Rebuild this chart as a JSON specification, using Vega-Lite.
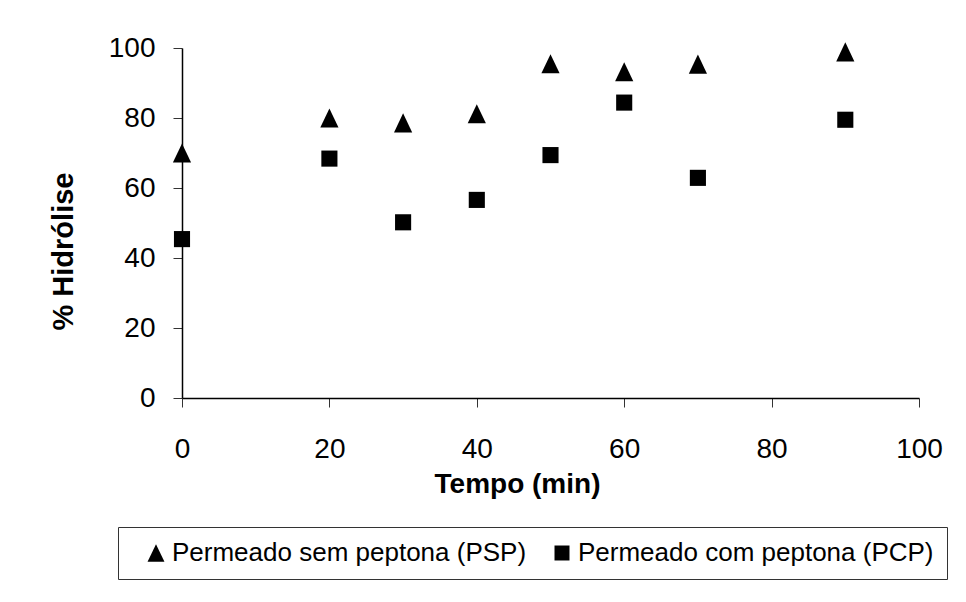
{
  "$schema": "https://vega.github.io/schema/vega-lite/v6.json",
  "autosize": "none",
  "width": 737,
  "height": 350,
  "padding": {"left": 182, "top": 48, "right": 47, "bottom": 204},
  "background": "white",
  "config": {
    "font": "Liberation Sans",
    "view": {"stroke": null},
    "axis": {"grid": false, "domainColor": "black", "tickColor": "#333333", "labelColor": "black", "titleColor": "black", "labelFont": "Liberation Sans", "titleFont": "Liberation Sans"},
    "legend": {"labelFont": "Liberation Sans"}
  },
  "data": {
    "values": [
      {"t": 0, "h": 70, "s": "Permeado sem peptona (PSP)"},
      {"t": 20, "h": 80, "s": "Permeado sem peptona (PSP)"},
      {"t": 30, "h": 78.6, "s": "Permeado sem peptona (PSP)"},
      {"t": 40, "h": 81.2, "s": "Permeado sem peptona (PSP)"},
      {"t": 50, "h": 95.5, "s": "Permeado sem peptona (PSP)"},
      {"t": 60, "h": 93.2, "s": "Permeado sem peptona (PSP)"},
      {"t": 70, "h": 95.4, "s": "Permeado sem peptona (PSP)"},
      {"t": 90, "h": 98.9, "s": "Permeado sem peptona (PSP)"},
      {"t": 0, "h": 45.4, "s": "Permeado com peptona (PCP)"},
      {"t": 20, "h": 68.4, "s": "Permeado com peptona (PCP)"},
      {"t": 30, "h": 50.2, "s": "Permeado com peptona (PCP)"},
      {"t": 40, "h": 56.6, "s": "Permeado com peptona (PCP)"},
      {"t": 50, "h": 69.4, "s": "Permeado com peptona (PCP)"},
      {"t": 60, "h": 84.4, "s": "Permeado com peptona (PCP)"},
      {"t": 70, "h": 62.9, "s": "Permeado com peptona (PCP)"},
      {"t": 90, "h": 79.5, "s": "Permeado com peptona (PCP)"}
    ]
  },
  "mark": {"type": "point", "filled": true, "opacity": 1, "size": 300},
  "encoding": {
    "x": {
      "field": "t", "type": "quantitative",
      "scale": {"domain": [0, 100], "nice": false, "zero": true},
      "axis": {"values": [0, 20, 40, 60, 80, 100], "title": "Tempo (min)", "titleFontSize": 28, "titleFontWeight": "bold", "titleX": 335, "titleY": 94, "titleAlign": "center", "titleBaseline": "alphabetic", "labelFontSize": 28, "tickSize": 9, "labelPadding": 28, "domainWidth": 1.5, "labelFlush": false}
    },
    "y": {
      "field": "h", "type": "quantitative",
      "scale": {"domain": [0, 100], "nice": false},
      "axis": {"values": [0, 20, 40, 60, 80, 100], "title": "% Hidrólise", "titleFontSize": 29, "titleFontWeight": "bold", "titleX": -110, "titleY": 203, "titleAlign": "center", "titleBaseline": "alphabetic", "titleAngle": -90, "labelFontSize": 28, "tickSize": 9, "labelPadding": 18, "domainWidth": 1.5}
    },
    "shape": {
      "field": "s", "type": "nominal",
      "scale": {"domain": ["Permeado sem peptona (PSP)", "Permeado com peptona (PCP)"], "range": ["M0,-1.1L1.05,1.1L-1.05,1.1Z", "M-0.93,-0.93L0.93,-0.93L0.93,0.93L-0.93,0.93Z"]},
      "legend": {"title": null, "orient": "none", "legendX": -64, "legendY": 479, "direction": "horizontal", "strokeColor": "#333333", "padding": 13, "labelFontSize": 26, "labelLimit": 0, "labelColor": "black", "symbolFillColor": "black", "symbolStrokeColor": "black", "symbolStrokeWidth": 0, "symbolSize": 260, "symbolOffset": 12, "labelOffset": 3, "columnPadding": 10}
    },
    "color": {"value": "black"}
  }
}
